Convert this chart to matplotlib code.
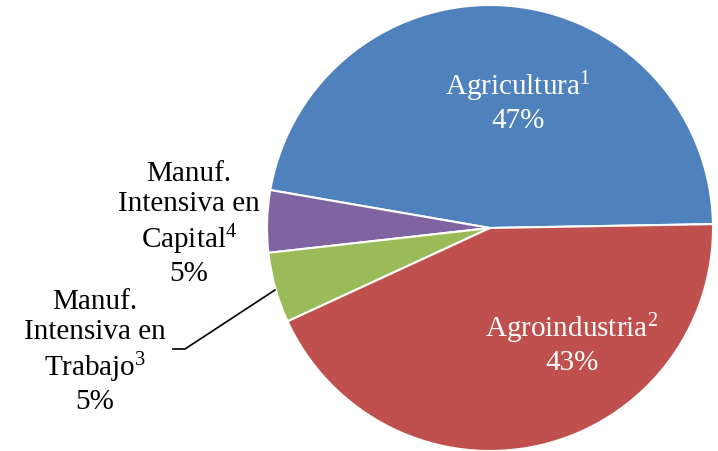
import matplotlib
matplotlib.use("Agg")
import matplotlib.pyplot as plt

categories = ["Agricultura", "Manuf. Intensiva en Capital", "Manuf. Intensiva en Trabajo", "Agroindustria"]
values = [47.0, 4.5, 5.1, 43.4]
pct_labels = ["47%", "5%", "5%", "43%"]
label_texts = [
    "Agricultura$^{1}$\n47%",
    "Manuf.\nIntensiva en\nCapital$^{4}$\n5%",
    "Manuf.\nIntensiva en\nTrabajo$^{3}$\n5%",
    "Agroindustria$^{2}$\n43%",
]
colors = ["#4F81BD", "#8064A2", "#9BBB59", "#C0504D"]

plt.rcParams['font.family'] = ['Liberation Serif', 'DejaVu Serif']
plt.rcParams['mathtext.fontset'] = 'custom'
plt.rcParams['mathtext.rm'] = 'Liberation Serif'
plt.rcParams['mathtext.default'] = 'rm'

W, H = 718, 451
fig = plt.figure(figsize=(W / 100, H / 100), dpi=100)
ax = fig.add_axes([0, 0, 1, 1])

cx, cy, r = 490, 228, 223
wedges, _ = ax.pie(values, colors=colors, startangle=-1, counterclock=False,
                   center=(cx, cy), radius=r, frame=True,
                   wedgeprops=dict(edgecolor='white', linewidth=1.5))
ax.set_xlim(0, W)
ax.set_ylim(H, 0)
ax.set_aspect('equal')
ax.axis('off')

fs = 21
ls = 1.2
ax.text(518, 102, label_texts[0], ha='center', va='center', color='white', fontsize=fs, linespacing=ls)
ax.text(572, 344, label_texts[3], ha='center', va='center', color='white', fontsize=fs, linespacing=ls)
ax.text(189, 224, label_texts[1], ha='center', va='center', color='black', fontsize=fs, linespacing=ls)
ax.text(95, 352, label_texts[2], ha='center', va='center', color='black', fontsize=fs, linespacing=ls)
ax.plot([275, 185, 173], [290, 349, 349], color='black', linewidth=1.2)

fig.savefig("out.png", dpi=100)
